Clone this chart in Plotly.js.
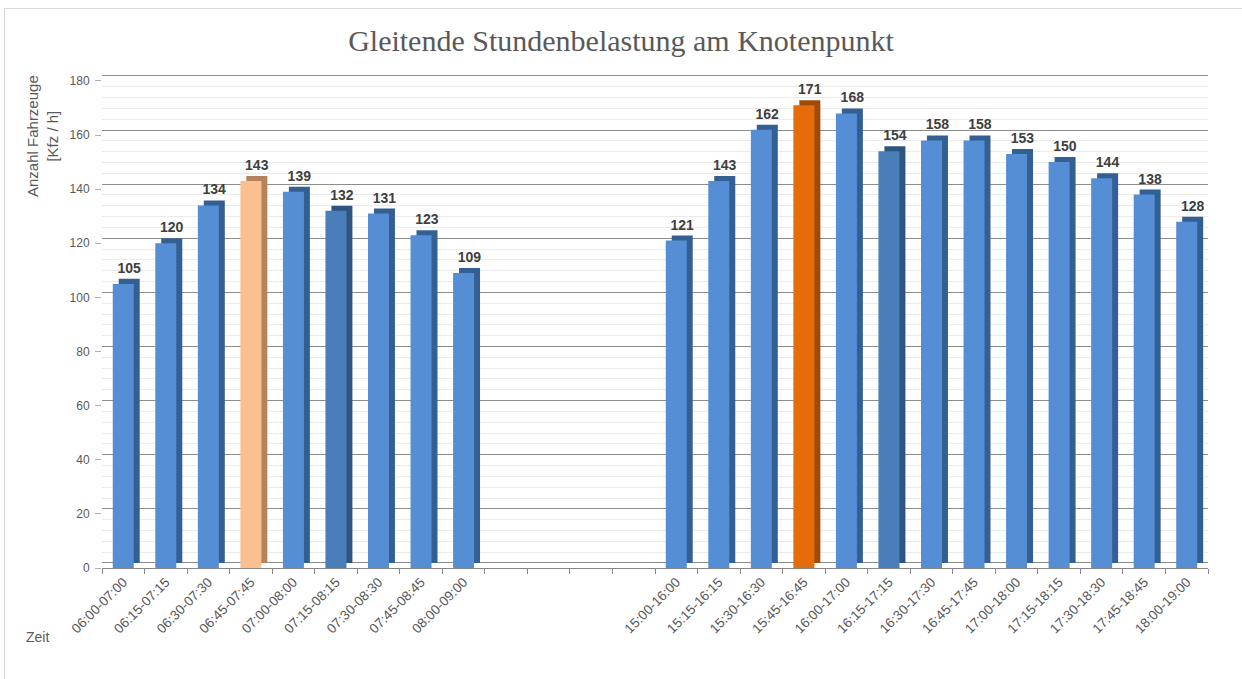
<!DOCTYPE html>
<html>
<head>
<meta charset="utf-8">
<script src="https://cdn.plot.ly/plotly-3.0.1.min.js"></script>
<style>
  html, body { margin: 0; padding: 0; background: #fff; overflow: hidden; }
  #chart { width: 1242px; height: 679px; }
  #frame { position: absolute; left: 4px; top: 8px; width: 1400px; height: 800px;
           border-left: 1px solid #d9d9d9; border-top: 1px solid #d9d9d9; pointer-events: none; }
</style>
</head>
<body>
<div id="chart"></div>
<div id="frame"></div>
<script>
// Zeitfenster und Werte (Kfz/h)
const morningSlots = ['06:00-07:00', '06:15-07:15', '06:30-07:30', '06:45-07:45', '07:00-08:00',
                      '07:15-08:15', '07:30-08:30', '07:45-08:45', '08:00-09:00'];
const morningValues = [105, 120, 134, 143, 139, 132, 131, 123, 109];

const gapSlots = [' ', '  ', '   ', '    ']; // leere Plätze zwischen Vormittag und Nachmittag

const afternoonSlots = ['15:00-16:00', '15:15-16:15', '15:30-16:30', '15:45-16:45', '16:00-17:00',
                        '16:15-17:15', '16:30-17:30', '16:45-17:45', '17:00-18:00', '17:15-18:15',
                        '17:30-18:30', '17:45-18:45', '18:00-19:00'];
const afternoonValues = [121, 143, 162, 171, 168, 154, 158, 158, 153, 150, 144, 138, 128];

// etwas dunklere Balken im Original
const shadedSlots = ['07:15-08:15', '16:15-17:15'];

const kategorien = morningSlots.concat(gapSlots, afternoonSlots);
const werte = morningValues.concat(gapSlots.map(() => null), afternoonValues);

const morningPeak = morningSlots[morningValues.indexOf(Math.max(...morningValues))];
const afternoonPeak = afternoonSlots[afternoonValues.indexOf(Math.max(...afternoonValues))];

function frontFarbe(k) {
  if (k === morningPeak) return '#FAC090';
  if (k === afternoonPeak) return '#E46C0A';
  if (shadedSlots.includes(k)) return '#4A7EBB';
  return '#558ED5';
}
function seitenFarbe(k) {
  if (k === morningPeak) return '#B4835B';
  if (k === afternoonPeak) return '#A04A07';
  if (shadedSlots.includes(k)) return '#2E5480';
  return '#335F93';
}

const barWidth = 0.494;
const depth = 0.14;

// Rückseite / Tiefe (auf der "hinteren" Achse, dadurch etwas nach oben versetzt)
const traceTiefe = {
  type: 'bar',
  x: kategorien,
  y: werte,
  yaxis: 'y',
  width: barWidth,
  offset: -barWidth / 2 + depth,
  marker: { color: kategorien.map(seitenFarbe) },
  text: werte.map(v => v === null ? '' : String(v)),
  texttemplate: '<b>%{text}</b>',
  textposition: 'outside',
  constraintext: 'none',
  cliponaxis: false,
  textfont: { family: 'Liberation Sans, Arial, sans-serif', size: 14, color: '#404040' },
  hoverinfo: 'none'
};

// Vorderseite
const traceFront = {
  type: 'bar',
  x: kategorien,
  y: werte,
  yaxis: 'y2',
  width: barWidth,
  offset: -barWidth / 2,
  marker: { color: kategorien.map(frontFarbe) },
  hoverinfo: 'none'
};

const grau = '#595959';

const layout = {
  width: 1242,
  height: 679,
  paper_bgcolor: '#ffffff',
  plot_bgcolor: 'rgba(0,0,0,0)',
  margin: { l: 102, r: 34, t: 72, b: 111 },
  showlegend: false,
  barmode: 'overlay',
  title: {
    text: 'Gleitende Stundenbelastung am Knotenpunkt',
    font: { family: 'Liberation Serif, DejaVu Serif, serif', size: 30, color: grau },
    x: 0.5, xref: 'container', xanchor: 'center',
    y: 1 - 40 / 679, yref: 'container', yanchor: 'middle'
  },
  xaxis: {
    type: 'category',
    categoryorder: 'array',
    categoryarray: kategorien,
    range: [-0.5, kategorien.length - 0.5],
    tickson: 'boundaries',
    ticks: 'outside',
    ticklen: 5,
    tickcolor: '#868686',
    showline: true,
    linecolor: '#868686',
    linewidth: 1,
    showgrid: false,
    tickangle: -45,
    tickfont: { family: 'Liberation Sans, Arial, sans-serif', size: 13.5, color: grau }
  },
  // hintere Wand: Gitterlinien
  yaxis: {
    range: [-1.85, 181.45],
    showticklabels: false,
    ticks: '',
    dtick: 20,
    tick0: 0,
    showgrid: true,
    gridcolor: '#8C8C8C',
    gridwidth: 1,
    zeroline: false,
    minor: { dtick: 4, showgrid: true, gridcolor: '#EBEBEB', gridwidth: 1 }
  },
  // vordere Ebene: Beschriftung
  yaxis2: {
    overlaying: 'y',
    side: 'left',
    range: [0, 183.3],
    tickvals: [0, 20, 40, 60, 80, 100, 120, 140, 160, 180],
    showgrid: false,
    zeroline: false,
    ticks: 'outside',
    ticklen: 6,
    tickcolor: '#B0B0B0',
    ticklabelstandoff: 3,
    tickfont: { family: 'Liberation Sans, Arial, sans-serif', size: 12, color: grau }
  },
  annotations: [
    {
      text: 'Anzahl Fahrzeuge<br>[Kfz / h]',
      xref: 'paper', yref: 'paper',
      x: (42 - 102) / 1106, y: (568 - 136) / 496,
      xanchor: 'center', yanchor: 'middle',
      textangle: -90,
      showarrow: false,
      font: { family: 'Liberation Sans, Arial, sans-serif', size: 15, color: grau }
    },
    {
      text: 'Zeit',
      xref: 'paper', yref: 'paper',
      x: (37 - 102) / 1106, y: (568 - 637) / 496,
      xanchor: 'center', yanchor: 'middle',
      showarrow: false,
      font: { family: 'Liberation Sans, Arial, sans-serif', size: 14, color: grau }
    }
  ]
};

Plotly.newPlot('chart', [traceTiefe, traceFront], layout, { staticPlot: true, displayModeBar: false });
</script>
</body>
</html>
